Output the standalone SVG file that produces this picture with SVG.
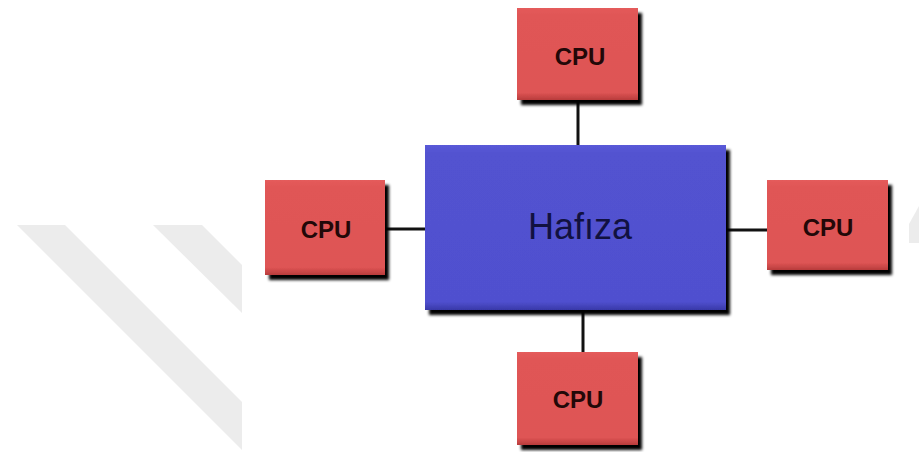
<svg xmlns="http://www.w3.org/2000/svg" width="919" height="452" viewBox="0 0 919 452">
  <defs>
    <filter id="shadow" x="-10%" y="-10%" width="125%" height="130%">
      <feGaussianBlur in="SourceAlpha" stdDeviation="1.6"/>
      <feOffset dx="4" dy="5"/>
      <feComponentTransfer><feFuncA type="linear" slope="1"/></feComponentTransfer>
      <feMerge><feMergeNode/><feMergeNode in="SourceGraphic"/></feMerge>
    </filter>
    <linearGradient id="cpuFill" x1="0" y1="0" x2="0" y2="1">
      <stop offset="0" stop-color="#e45b5b"/>
      <stop offset="0.08" stop-color="#e05656"/>
      <stop offset="0.92" stop-color="#de5454"/>
      <stop offset="1" stop-color="#b83c3c"/>
    </linearGradient>
    <linearGradient id="memFill" x1="0" y1="0" x2="0" y2="1">
      <stop offset="0" stop-color="#5a5ad8"/>
      <stop offset="0.05" stop-color="#5252d0"/>
      <stop offset="0.95" stop-color="#5050cf"/>
      <stop offset="1" stop-color="#3838a8"/>
    </linearGradient>
  </defs>
  <style>
    .mark { fill: #ececec; }
    .link { stroke: #111111; stroke-width: 3; fill: none; }
    .cpu rect { fill: url(#cpuFill); filter: url(#shadow); }
    .cpu text { font-family: "Liberation Sans", Arial, sans-serif; font-weight: bold; font-size: 24px; fill: #220808; text-anchor: middle; }
    .mem rect { fill: url(#memFill); filter: url(#shadow); }
    .mem text { font-family: "Liberation Sans", Arial, sans-serif; font-size: 36px; fill: #111140; text-anchor: middle; }
  </style>

  <rect width="919" height="452" fill="#ffffff"/>

  <!-- background stripes -->
  <g id="backdrop">
    <polygon class="mark" points="17,225 65,225 242,402 242,450"/>
    <polygon class="mark" points="153,225 202,225 242,265 242,313"/>
    <polygon class="mark" points="919,206 919,243 909,243 909,224"/>
  </g>

  <!-- connectors -->
  <g id="connectors">
    <line class="link" x1="578" y1="100" x2="578" y2="146"/>
    <line class="link" x1="385" y1="229" x2="426" y2="229"/>
    <line class="link" x1="725" y1="230" x2="767" y2="230"/>
    <line class="link" x1="583" y1="309" x2="583" y2="352"/>
  </g>

  <g id="memory" class="mem">
    <rect x="425" y="145" width="301" height="165"/>
    <text x="580" y="239">Hafıza</text>
  </g>

  <g id="cpu-top" class="cpu">
    <rect x="517" y="8" width="121" height="92"/>
    <text x="580" y="65">CPU</text>
  </g>

  <g id="cpu-left" class="cpu">
    <rect x="265" y="180" width="120" height="95"/>
    <text x="326" y="238">CPU</text>
  </g>

  <g id="cpu-right" class="cpu">
    <rect x="767" y="180" width="121" height="90"/>
    <text x="828" y="236">CPU</text>
  </g>

  <g id="cpu-bottom" class="cpu">
    <rect x="517" y="352" width="121" height="93"/>
    <text x="578" y="408">CPU</text>
  </g>
</svg>
